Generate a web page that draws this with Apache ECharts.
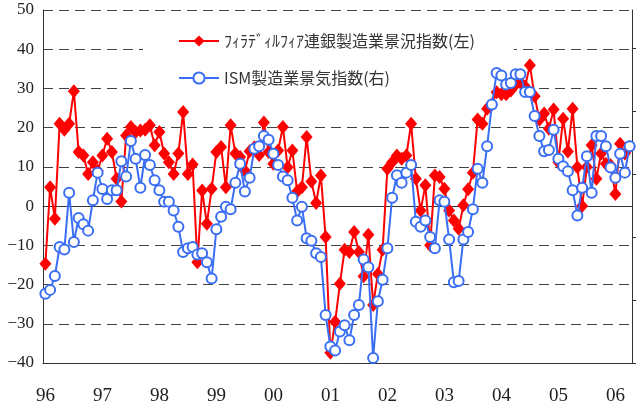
<!DOCTYPE html>
<html>
<head>
<meta charset="utf-8">
<script src="https://cdn.jsdelivr.net/npm/echarts@6/dist/echarts.min.js"></script>
<style>
html, body { margin: 0; padding: 0; background: #fff; }
#chart { width: 636px; height: 407px; }
</style>
</head>
<body>
<div id="chart"></div>
<script>
// 年ラベル（1996/01〜2006/04 の月次）
var years = ['96', '97', '98', '99', '00', '01', '02', '03', '04', '05', '06'];
var monthCount = 124;

var phillyName = 'ﾌｨﾗﾃﾞｨﾙﾌｨｱ連銀製造業景況指数(左)';
var ismName = 'ISM製造業景気指数(右)';

// フィラデルフィア連銀製造業景況指数（左軸）
var phillyFed = [
	-14.7, 4.8, -3.2, 21.0, 19.5, 21.0, 29.3, 13.8, 12.9, 8.2, 11.2, 9.0,
	12.9, 17.2, 13.8, 7.0, 1.2, 18.0, 20.2, 18.9, 19.3, 19.5, 20.6, 15.5,
	18.9, 13.4, 11.2, 8.2, 13.4, 24.0, 8.2, 10.6, -14.3, 4.0, -4.5, 4.4,
	13.8, 15.1, 4.8, 20.6, 13.4, 12.5, 9.0, 14.0, 15.0, 13.0, 21.3, 13.8,
	10.8, 14.2, 20.2, 9.9, 14.2, 3.7, 4.8, 17.6, 6.3, 0.8, 7.8, -7.9,
	-37.4, -29.5, -19.8, -11.1, -11.7, -6.6, -11.7, -17.9, -7.3, -25.2, -17.3, -11.1,
	9.5, 11.2, 12.9, 12.1, 12.9, 21.0, 7.0, -1.1, 5.3, -10.0, 7.8, 7.4,
	4.4, -1.1, -3.7, -5.8, 0.2, 4.3, 8.5, 22.1, 21.0, 24.8, 25.9, 29.0,
	28.5, 28.5, 29.5, 31.0, 31.5, 30.5, 35.9, 28.0, 22.0, 23.6, 19.7, 24.6,
	11.2, 22.3, 13.9, 24.8, 9.9, 0.0, 10.0, 15.5, 7.0, 13.4, 10.8, 10.4,
	3.1, 15.9, 13.4, 15.1
];

// ISM製造業景気指数（右軸）
var ismIndex = [
	45.5, 45.8, 46.9, 49.2, 49.0, 53.5, 49.6, 51.5, 51.0, 50.5, 52.9, 55.1,
	53.8, 53.0, 53.7, 53.7, 56.0, 54.8, 57.6, 56.2, 53.9, 56.5, 55.7, 54.5,
	53.7, 52.8, 52.8, 52.1, 50.8, 48.8, 49.1, 49.2, 48.6, 48.7, 48.0, 46.7,
	50.6, 51.6, 52.4, 52.2, 54.3, 55.8, 53.6, 54.7, 57.0, 57.2, 58.0, 57.7,
	56.6, 55.7, 54.8, 54.5, 53.1, 51.3, 52.4, 49.9, 49.7, 48.7, 48.4, 43.8,
	41.3, 41.0, 42.5, 43.0, 41.8, 43.8, 44.6, 48.2, 47.6, 40.4, 44.9, 46.6,
	49.1, 53.1, 54.9, 54.3, 55.1, 55.7, 51.2, 50.8, 51.3, 50.0, 49.1, 52.9,
	52.8, 49.8, 46.4, 46.5, 49.8, 50.4, 52.2, 55.4, 54.3, 57.2, 60.5, 63.0,
	62.8, 62.1, 62.2, 62.9, 62.9, 61.5, 61.5, 59.6, 58.0, 56.8, 56.9, 58.5,
	56.2, 55.6, 55.2, 53.7, 51.7, 53.9, 56.4, 53.5, 58.0, 58.0, 57.2, 55.5,
	54.7, 56.6, 55.1, 57.2
];

var leftTicks = { min: -40, max: 50, step: 10 };
var rightTicks = [40, 45, 50, 55, 60, 65];

var months = [];
for (var y = 0; y < years.length; y++) {
	for (var m = 1; m <= 12; m++) {
		if (months.length < monthCount) {
			months.push(years[y] + '/' + (m < 10 ? '0' + m : m));
		}
	}
}

function yearStart(index) {
	return index % 12 === 0;
}

var myChart = echarts.init(document.getElementById('chart'));
var option = {
	animation: false,
	backgroundColor: '#fff',
	grid: {
		left: 43,
		right: 4,
		top: 10,
		bottom: 44
	},
	legend: {
		orient: 'vertical',
		left: 143,
		top: 22,
		z: 1,
		backgroundColor: '#fff',
		padding: [11, 39, 18, 35],
		itemWidth: 40,
		itemHeight: 14,
		itemGap: 21,
		textStyle: {
			fontFamily: 'Noto Sans CJK JP',
			fontSize: 16,
			color: '#333'
		},
		data: [phillyName, ismName]
	},
	xAxis: [{
		type: 'category',
		data: months,
		boundaryGap: true,
		position: 'bottom',
		axisLine: {
			onZero: false,
			lineStyle: { color: '#333', width: 1 }
		},
		axisTick: {
			inside: true,
			length: 5,
			interval: yearStart,
			lineStyle: { color: '#333' }
		},
		axisLabel: {
			interval: yearStart,
			formatter: function(v) { return v.split('/')[0]; },
			fontFamily: 'Liberation Serif',
			fontSize: 19,
			color: '#222',
			margin: 24
		},
		splitLine: { show: false }
	}, {
		type: 'category',
		data: months,
		boundaryGap: true,
		position: 'top',
		axisLine: {
			onZero: true,
			onZeroAxisIndex: 0,
			lineStyle: { color: '#333', width: 1 }
		},
		axisTick: {
			inside: false,
			length: 5,
			interval: yearStart,
			lineStyle: { color: '#333' }
		},
		axisLabel: { show: false },
		splitLine: { show: false }
	}],
	yAxis: [{
		type: 'value',
		position: 'left',
		min: leftTicks.min,
		max: leftTicks.max,
		interval: leftTicks.step,
		axisLine: { show: true, lineStyle: { color: '#333' } },
		axisTick: { show: false },
		axisLabel: {
			formatter: function(v) { return String(v).replace('-', '−'); },
			fontFamily: 'Liberation Serif',
			fontSize: 17,
			color: '#222',
			margin: 9
		},
		splitLine: {
			show: true,
			lineStyle: { color: '#444', type: [10, 6], width: 1 }
		}
	}, {
		type: 'value',
		position: 'right',
		min: 40,
		max: 68,
		interval: 5,
		axisLine: { show: true, lineStyle: { color: '#333' } },
		axisTick: {
			show: true,
			inside: false,
			length: 5,
			customValues: rightTicks,
			lineStyle: { color: '#333' }
		},
		axisLabel: { show: false },
		splitLine: { show: false }
	}],
	series: [{
		name: phillyName,
		type: 'line',
		xAxisIndex: 0,
		yAxisIndex: 0,
		data: phillyFed,
		symbol: 'diamond',
		symbolSize: [12, 14],
		showAllSymbol: true,
		z: 2,
		lineStyle: { color: '#ff0000', width: 2 },
		itemStyle: { color: '#ff0000' }
	}, {
		name: ismName,
		type: 'line',
		xAxisIndex: 0,
		yAxisIndex: 1,
		data: ismIndex,
		symbol: 'emptyCircle',
		symbolSize: 10,
		showAllSymbol: true,
		z: 3,
		lineStyle: { color: '#3a6ef5', width: 2 },
		itemStyle: { color: '#3a6ef5', borderColor: '#3a6ef5', borderWidth: 2 }
	}]
};
myChart.setOption(option);
</script>
</body>
</html>
